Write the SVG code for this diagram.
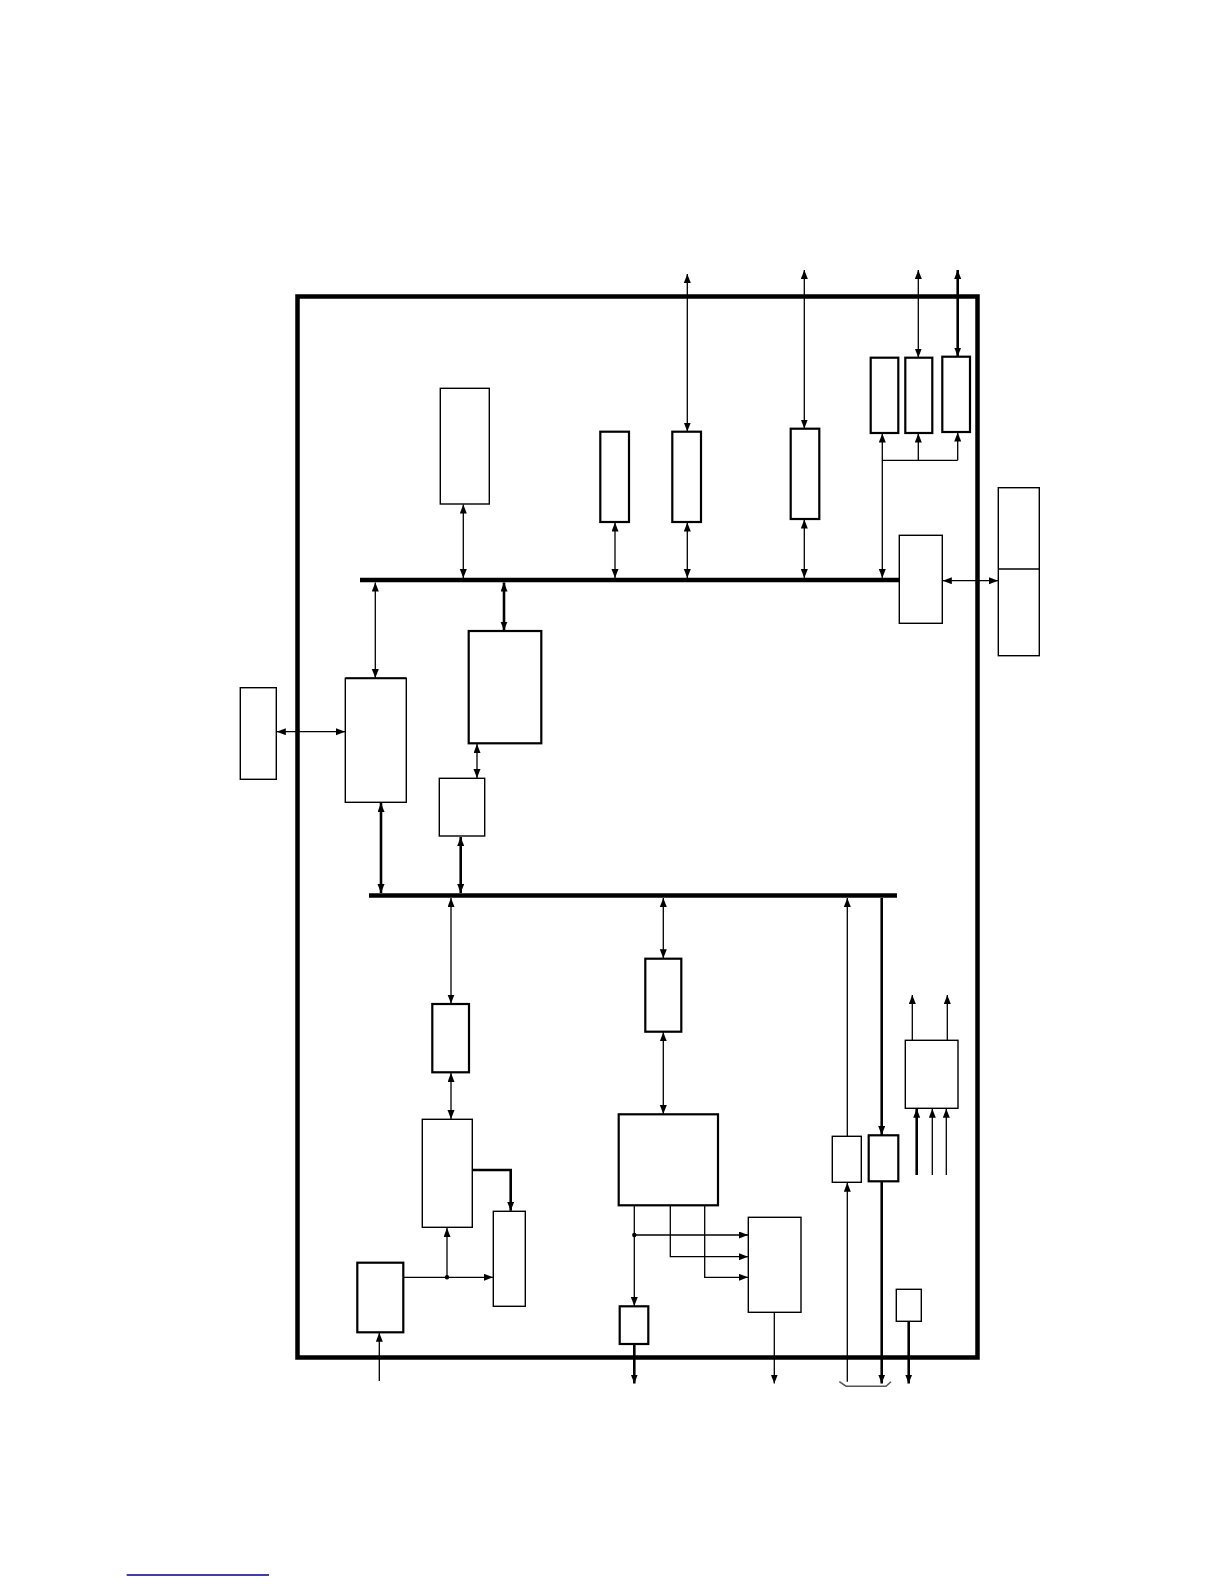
<svg xmlns="http://www.w3.org/2000/svg" width="1224" height="1584" viewBox="0 0 1224 1584">
<style>
.box{fill:#fff;stroke:#000;stroke-width:1.4}
.bx2{fill:#fff;stroke:#000;stroke-width:2.2}
.c{fill:none;stroke:#000;stroke-width:1.3}
.ct{fill:none;stroke:#000;stroke-width:2.6}
.bus{stroke:#000;stroke-width:4.5;fill:none}
.ab{marker-start:url(#ah);marker-end:url(#ah)}
.ae{marker-end:url(#ah)}
</style>
<defs>
<marker id="ah" markerUnits="userSpaceOnUse" markerWidth="10" markerHeight="8" refX="9" refY="3.5" orient="auto-start-reverse">
<path d="M0,0 L9,3.5 L0,7 z" fill="#000"/>
</marker>
</defs>
<rect width="1224" height="1584" fill="#fff"/>
<g id="frame"><rect x="297.5" y="296.5" width="680" height="1061" fill="none" stroke="#000" stroke-width="4.5"/></g>
<g id="buses">
<line class="bus" x1="360" y1="580" x2="900" y2="580"/>
<line class="bus" x1="369" y1="895.5" x2="897" y2="895.5"/>
</g>
<g id="nodeA"><rect class="box" x="440.3" y="388.3" width="49" height="115.7"/></g>
<g id="nodeB"><rect class="bx2" x="600.3" y="431.7" width="28.7" height="90.3"/></g>
<g id="nodeC"><rect class="bx2" x="672.3" y="431.7" width="28.7" height="90.3"/></g>
<g id="nodeD"><rect class="bx2" x="790.7" y="428.7" width="28.6" height="90.3"/></g>
<g id="nodeE"><rect class="bx2" x="870.7" y="357.7" width="27.6" height="75.3"/></g>
<g id="nodeF"><rect class="bx2" x="905.3" y="357.7" width="27" height="75.3"/></g>
<g id="nodeG"><rect class="bx2" x="942.3" y="356.7" width="27.7" height="75.3"/></g>
<g id="nodeH"><rect class="box" x="899.3" y="535.3" width="43" height="88"/></g>
<g id="nodeI"><rect class="box" x="998.3" y="487.7" width="41" height="168"/><line x1="998.3" y1="569" x2="1039.3" y2="569" stroke="#000" stroke-width="1.6"/></g>
<g id="nodeJ"><rect class="box" x="240.3" y="687.7" width="36" height="91.6"/></g>
<g id="nodeK"><rect class="box" x="345.3" y="678.3" width="61" height="124"/><line x1="345.3" y1="678.3" x2="406.3" y2="678.3" stroke="#000" stroke-width="2"/></g>
<g id="nodeL"><rect class="bx2" x="468.7" y="631" width="72.6" height="112.3"/></g>
<g id="nodeM"><rect class="box" x="439.3" y="778.3" width="45.4" height="57.7"/></g>
<g id="nodeN"><rect class="bx2" x="432.3" y="1004" width="36.7" height="68.3"/></g>
<g id="nodeO"><rect class="box" x="422.3" y="1119.3" width="50" height="108"/></g>
<g id="nodeP"><rect class="box" x="493.3" y="1211.3" width="32" height="95"/></g>
<g id="nodeQ"><rect class="bx2" x="357.3" y="1262.7" width="46" height="69.6"/></g>
<g id="nodeR"><rect class="bx2" x="645.3" y="958.7" width="36" height="73"/></g>
<g id="nodeS"><rect class="bx2" x="618.7" y="1114.3" width="99.3" height="91"/></g>
<g id="nodeT"><rect class="box" x="748.3" y="1217.3" width="52.7" height="95"/></g>
<g id="nodeU"><rect class="bx2" x="619.7" y="1306.3" width="28.6" height="37.7"/></g>
<g id="nodeV"><rect class="box" x="832.3" y="1136.3" width="29" height="46"/></g>
<g id="nodeW"><rect class="bx2" x="868.7" y="1135.3" width="29.6" height="46"/></g>
<g id="nodeX"><rect class="box" x="905.3" y="1040.3" width="52.7" height="68"/></g>
<g id="nodeY"><rect class="box" x="896.3" y="1289.3" width="25" height="32"/></g>
<g id="connectors">
<line class="c ab" x1="463.3" y1="504.5" x2="463.3" y2="578"/>
<line class="c ab" x1="615" y1="522.5" x2="615" y2="578"/>
<line class="c ab" x1="687.3" y1="522.5" x2="687.3" y2="578"/>
<line class="c ab" x1="687.3" y1="274" x2="687.3" y2="431.5"/>
<line class="c ab" x1="804.3" y1="519.5" x2="804.3" y2="578"/>
<line class="c ab" x1="804.3" y1="270" x2="804.3" y2="428.5"/>
<line class="c ab" x1="882.3" y1="433.5" x2="882.3" y2="578"/>
<path class="c" d="M882.3,460.3 H957.7"/>
<line class="c ae" x1="918.3" y1="460.3" x2="918.3" y2="433.5"/>
<line class="c ae" x1="957.7" y1="460.3" x2="957.7" y2="432.5"/>
<line class="c ab" x1="918.3" y1="270" x2="918.3" y2="357.5"/>
<line class="ct ab" x1="957.7" y1="270" x2="957.7" y2="356.5"/>
<line class="c ab" x1="942.8" y1="580.7" x2="998" y2="580.7"/>
<line class="c ab" x1="375.3" y1="582.5" x2="375.3" y2="678"/>
<line class="ct ab" x1="504" y1="582.5" x2="504" y2="630.5"/>
<line class="c ab" x1="276.8" y1="731.7" x2="345" y2="731.7"/>
<line class="c ab" x1="477" y1="744" x2="477" y2="778"/>
<line class="ct ab" x1="381" y1="803" x2="381" y2="893"/>
<line class="ct ab" x1="460.7" y1="837" x2="460.7" y2="893"/>
<line class="c ab" x1="451" y1="898" x2="451" y2="1003.5"/>
<line class="c ab" x1="451" y1="1073" x2="451" y2="1119"/>
<path class="ct ae" d="M472.3,1170 H510.7 V1210.8"/>
<path class="c ae" d="M403.3,1277.3 H493"/>
<path class="c ae" d="M447,1277.3 V1228"/>
<circle cx="447" cy="1277.3" r="2.2" fill="#000"/>
<path class="c ae" d="M379.3,1381 V1332.8"/>
<line class="c ab" x1="663.3" y1="898" x2="663.3" y2="958.3"/>
<line class="c ab" x1="663.3" y1="1032.3" x2="663.3" y2="1114"/>
<path class="c ae" d="M634.3,1205.3 V1306"/>
<circle cx="634.3" cy="1235" r="2.2" fill="#000"/>
<path class="c ae" d="M634.3,1235 H748"/>
<path class="c ae" d="M670.3,1205.3 V1256.7 H748"/>
<path class="c ae" d="M704.7,1205.3 V1277.3 H748"/>
<path class="ct ae" d="M634.3,1344 V1383.5"/>
<path class="c ae" d="M774.3,1312.3 V1383.5"/>
<path class="c ae" d="M847.3,1136.3 V898"/>
<path class="c ae" d="M847.3,1381.7 V1182.8"/>
<path class="ct ae" d="M881.7,898 V1135"/>
<path class="ct ae" d="M881.7,1181.3 V1383.5"/>
<path class="c ae" d="M912.3,1040.3 V995"/>
<path class="c ae" d="M947.3,1040.3 V995"/>
<path class="ct ae" d="M916.7,1175 V1108.8"/>
<path class="c ae" d="M932.3,1175 V1108.8"/>
<path class="c ae" d="M946.3,1175 V1108.8"/>
<path class="ct ae" d="M908.7,1321.3 V1383.5"/>
<path d="M839.3,1381.7 L846,1386.2 H886 L891,1381.7" fill="none" stroke="#555" stroke-width="1.5"/>
</g>
<line x1="126.7" y1="1575" x2="269" y2="1575" stroke="#00008b" stroke-width="1.5"/>
</svg>
